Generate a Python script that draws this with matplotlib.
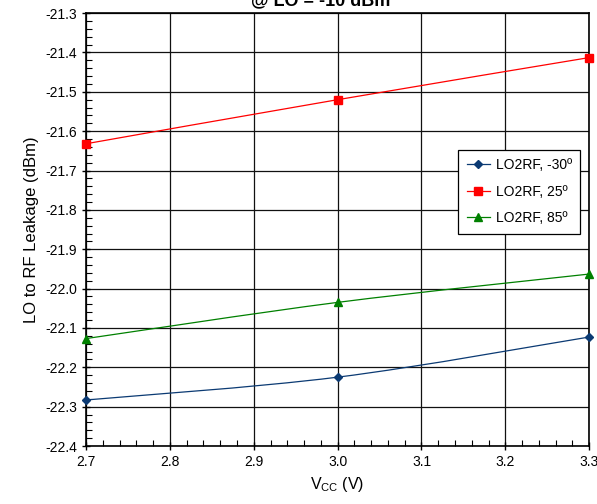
import matplotlib.pyplot as plt
from matplotlib.path import Path
from matplotlib.patches import PathPatch
from matplotlib.ticker import MultipleLocator, FormatStrFormatter

plt.rcParams['font.family'] = ['Liberation Sans', 'DejaVu Sans']

# supply voltage and leakage readings
vcc = [2.7, 3.0, 3.3]
leak_m30 = [-22.283, -22.225, -22.123]
leak_25 = [-21.632, -21.520, -21.413]
leak_85 = [-22.127, -22.035, -21.963]

labels = ['LO2RF, -30º', 'LO2RF, 25º', 'LO2RF, 85º']
colors = ['#0B3A73', '#FF0000', '#008000']
markers = ['D', 's', '^']
msizes = [4.5, 5.5, 6]


def smooth_path(xs, ys, t=1 / 6):
    # excel-like smoothed line: catmull-rom as cubic bezier segments
    pts = list(zip(xs, ys))
    verts = [pts[0]]
    codes = [Path.MOVETO]
    n = len(pts)
    for i in range(n - 1):
        p0 = pts[i - 1] if i > 0 else pts[i]
        p1 = pts[i]
        p2 = pts[i + 1]
        p3 = pts[i + 2] if i + 2 < n else pts[i + 1]
        c1 = (p1[0] + (p2[0] - p0[0]) * t, p1[1] + (p2[1] - p0[1]) * t)
        c2 = (p2[0] - (p3[0] - p1[0]) * t, p2[1] - (p3[1] - p1[1]) * t)
        verts += [c1, c2, p2]
        codes += [Path.CURVE4] * 3
    return Path(verts, codes)


fig = plt.figure(figsize=(5.97, 5.04), dpi=100)
ax = fig.add_axes([0.144, 0.115, 0.843, 0.859])

for ys, lab, c, m, ms in zip([leak_m30, leak_25, leak_85], labels, colors, markers, msizes):
    ax.add_patch(PathPatch(smooth_path(vcc, ys), facecolor='none', edgecolor=c, lw=0.9, zorder=3))
    ax.plot(vcc, ys, linestyle='none', marker=m, color=c, ms=ms, zorder=4, clip_on=False)
    ax.plot([], [], color=c, lw=0.9, marker=m, ms=ms, label=lab)

ax.set_xlim(2.7, 3.3)
ax.set_ylim(-22.4, -21.3)
ax.xaxis.set_major_locator(MultipleLocator(0.1))
ax.xaxis.set_minor_locator(MultipleLocator(0.02))
ax.yaxis.set_major_locator(MultipleLocator(0.1))
ax.yaxis.set_minor_locator(MultipleLocator(0.02))
ax.xaxis.set_major_formatter(FormatStrFormatter('%.1f'))
ax.yaxis.set_major_formatter(FormatStrFormatter('%.1f'))
ax.tick_params(which='major', direction='inout', length=6, width=1, labelsize=10)
ax.tick_params(which='minor', direction='in', length=4, width=0.8)
ax.grid(True, which='major', color='#111111', lw=0.9)
for s in ax.spines.values():
    s.set_linewidth(1.2)

ax.set_xlabel(r'V$_{\mathregular{CC}}$ (V)', fontsize=11.5)
ax.set_ylabel('LO to RF Leakage (dBm)', fontsize=12)

fig.text(0.538, 0.990, '@ LO = -10 dBm', ha='center', va='baseline', fontsize=13, fontweight='bold')

leg = ax.legend(loc='upper right', bbox_to_anchor=(0.982, 0.684), borderaxespad=0, fontsize=10,
                fancybox=False, framealpha=1, edgecolor='black', handlelength=1.7,
                handletextpad=0.4, labelspacing=0.9, borderpad=0.6)
leg.get_frame().set_linewidth(0.9)

fig.savefig('out.png', dpi=100)
